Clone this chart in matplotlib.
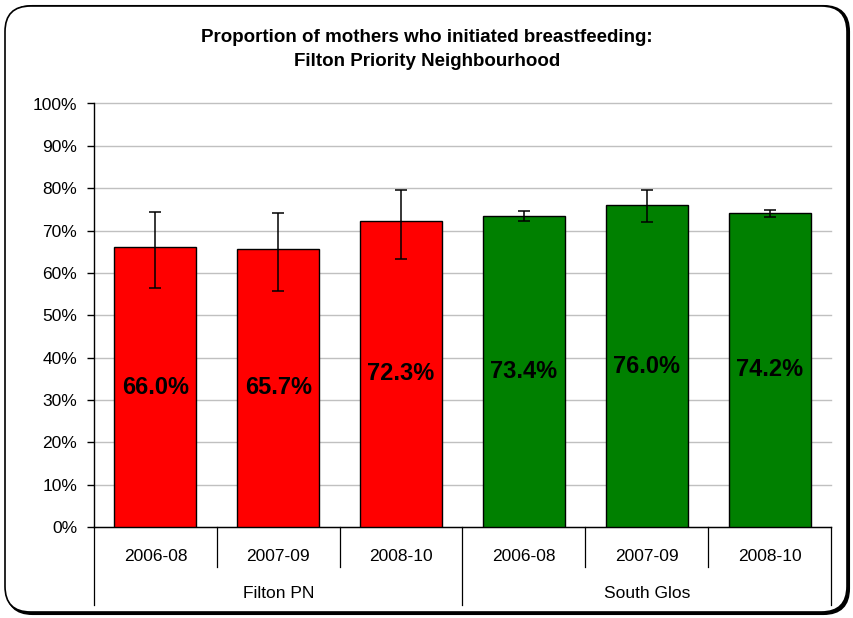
import matplotlib
matplotlib.use('Agg')
from matplotlib import pyplot as plt
from matplotlib.patches import FancyBboxPatch
from matplotlib.transforms import blended_transform_factory
import numpy as np

plt.rcParams['font.family'] = ['Liberation Sans', 'DejaVu Sans']

# data
periods = ['2006-08', '2007-09', '2008-10', '2006-08', '2007-09', '2008-10']
groups = ['Filton PN', 'South Glos']
values = [66.0, 65.7, 72.3, 73.4, 76.0, 74.2]
ci_low = [56.4, 55.8, 63.4, 72.3, 72.0, 73.2]
ci_high = [74.4, 74.1, 79.6, 74.5, 79.6, 74.9]
bar_colors = ['#ff0000', '#ff0000', '#ff0000', '#008000', '#008000', '#008000']

fig = plt.figure(figsize=(8.54, 6.18), dpi=100)

# rounded chart frame with a little shadow on the right/bottom
W, H = 854.0, 618.0
shadow = FancyBboxPatch((7 / W, 4 / H), 842 / W, 608 / H,
                        boxstyle='round,pad=0,rounding_size=0.03',
                        transform=fig.transFigure, facecolor='black',
                        edgecolor='black', lw=1.5, zorder=0,
                        mutation_aspect=W / H)
frame = FancyBboxPatch((5 / W, 6 / H), 842 / W, 606 / H,
                       boxstyle='round,pad=0,rounding_size=0.03',
                       transform=fig.transFigure, facecolor='white',
                       edgecolor='black', lw=1.2, zorder=1,
                       mutation_aspect=W / H)
fig.patches.append(shadow)
fig.patches.append(frame)

ax = fig.add_axes([94 / W, 1 - 527 / H, 737 / W, 423.5 / H])
ax.set_facecolor('none')
ax.set_zorder(2)

x = np.arange(len(values))
vals = np.array(values)
yerr = [vals - np.array(ci_low), np.array(ci_high) - vals]

ax.bar(x, vals, width=0.667, color=bar_colors, edgecolor='black',
       linewidth=1, zorder=3)
ax.errorbar(x, vals, yerr=yerr, fmt='none', ecolor='black',
            elinewidth=1.1, capsize=4, capthick=1.1, zorder=4)

for xi, v in zip(x, vals):
    ax.text(xi, v / 2, f'{v:.1f}%', ha='center', va='center',
            fontsize=17, fontweight='bold', zorder=5)

ax.set_xlim(-0.5, len(values) - 0.5)
ax.set_ylim(0, 100)
ax.set_yticks(np.arange(0, 101, 10))
ax.set_yticklabels([f'{t}%' for t in range(0, 101, 10)], fontsize=12.5)
ax.yaxis.grid(True, color='#c0c0c0', linewidth=1)
for gl in ax.get_ygridlines():
    gl.set_clip_on(False)
ax.set_axisbelow(True)
ax.tick_params(axis='y', direction='out', length=5, width=1, pad=7)
ax.set_xticks([])
for s in ['top', 'right']:
    ax.spines[s].set_visible(False)
ax.spines['left'].set_linewidth(1)
ax.spines['bottom'].set_linewidth(1)

# two-level category axis drawn under the plot
trans = blended_transform_factory(ax.transData, ax.transAxes)
for b in np.arange(-0.5, len(values), 1.0):
    depth = -0.184 if b in (-0.5, 2.5, 5.5) else -0.0945
    ax.plot([b, b], [0, depth], color='black', lw=0.9, transform=trans,
            clip_on=False)
for xi, p in zip(x, periods):
    ax.text(xi, -0.0708, p, ha='center', va='center', fontsize=12.5,
            transform=trans)
for gi, g in enumerate(groups):
    ax.text(gi * 3 + 1, -0.156, g, ha='center', va='center', fontsize=12.5,
            transform=trans)

fig.text(427 / W, 1 - 37 / H, 'Proportion of mothers who initiated breastfeeding:',
         ha='center', va='center', fontsize=13.5, fontweight='bold')
fig.text(427 / W, 1 - 62 / H, 'Filton Priority Neighbourhood',
         ha='center', va='center', fontsize=13.5, fontweight='bold')

fig.savefig('out.png', dpi=100)
